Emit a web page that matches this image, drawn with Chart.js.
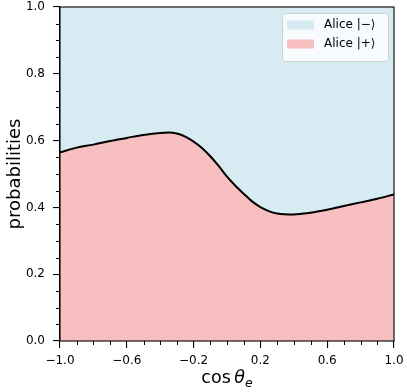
<!DOCTYPE html>
<html>
<head>
<meta charset="utf-8">
<script src="https://cdn.jsdelivr.net/npm/chart.js@4.4.1/dist/chart.umd.min.js"></script>
<style>
  html, body { margin: 0; padding: 0; background: #fff; }
  #wrap { width: 407px; height: 392px; }
</style>
</head>
<body>
<div id="wrap"><canvas id="myChart"></canvas></div>
<script>
// cos(theta_e) sample points and probability of Alice |+>
const cosTheta = [-1.0, -0.9, -0.8, -0.7, -0.6, -0.5, -0.4, -0.35, -0.3, -0.25, -0.2, -0.15, -0.1, -0.05, 0.0, 0.05, 0.1, 0.15, 0.2, 0.25, 0.3, 0.4, 0.5, 0.6, 0.7, 0.8, 0.9, 1.0];
const probPlus = [0.565, 0.579, 0.588, 0.599, 0.608, 0.617, 0.623, 0.624, 0.621, 0.612, 0.597, 0.578, 0.553, 0.524, 0.492, 0.465, 0.441, 0.418, 0.401, 0.389, 0.382, 0.379, 0.384, 0.393, 0.404, 0.415, 0.426, 0.439];
const probTotal = cosTheta.map(() => 1.0);
const seriesLabels = ['Alice |+\u27E9', 'Alice |\u2212\u27E9'];
const xTicks = [-1.0, -0.6, -0.2, 0.2, 0.6, 1.0];
const yTicks = [0.0, 0.2, 0.4, 0.6, 0.8, 1.0];
const xMinor = [-0.9, -0.8, -0.7, -0.5, -0.4, -0.3, -0.1, 0.0, 0.1, 0.3, 0.4, 0.5, 0.7, 0.8, 0.9];
const yMinor = [0.05, 0.1, 0.15, 0.25, 0.3, 0.35, 0.45, 0.5, 0.55, 0.65, 0.7, 0.75, 0.85, 0.9, 0.95];

const pinkFill = 'rgb(247, 191, 191)';
const blueFill = 'rgb(214, 235, 242)';
const FONT = "'DejaVu Sans', sans-serif";

function fmt(v) {
  return v.toFixed(1).replace('-', '\u2212');
}

const decor = {
  id: 'decor',
  afterDatasetsDraw(chart) {
    const c = chart.ctx;
    const a = chart.chartArea;
    const xs = chart.scales.x, ys = chart.scales.y;
    c.save();
    // minor ticks
    c.strokeStyle = '#000';
    c.lineWidth = 1;
    c.beginPath();
    xMinor.forEach(v => {
      const px = Math.round(xs.getPixelForValue(v)) + 0.5;
      c.moveTo(px, a.bottom);
      c.lineTo(px, a.bottom + 4);
    });
    yMinor.forEach(v => {
      const py = Math.round(ys.getPixelForValue(v)) + 0.5;
      c.moveTo(a.left, py);
      c.lineTo(a.left - 4, py);
    });
    c.stroke();
    // frame
    c.lineWidth = 1.1;
    c.strokeRect(a.left, a.top, a.right - a.left, a.bottom - a.top);
    c.restore();
  },
  afterDraw(chart) {
    const c = chart.ctx;
    const a = chart.chartArea;
    c.save();
    // x axis title: cos θ_e
    const cx = (a.left + a.right) / 2;
    const by = 383;
    c.fillStyle = '#000';
    c.textBaseline = 'alphabetic';
    c.font = '17.5px ' + FONT;
    const w1 = c.measureText('cos\u2009').width;
    c.font = 'italic 17.5px ' + FONT;
    const w2 = c.measureText('\u03B8').width;
    c.font = 'italic 12.5px ' + FONT;
    const w3 = c.measureText('e').width;
    let x0 = cx - (w1 + w2 + w3) / 2;
    c.textAlign = 'left';
    c.font = '17.5px ' + FONT;
    c.fillText('cos\u2009', x0, by);
    c.font = 'italic 17.5px ' + FONT;
    c.fillText('\u03B8', x0 + w1, by);
    c.font = 'italic 12.5px ' + FONT;
    c.fillText('e', x0 + w1 + w2, by + 4);

    // legend
    const lx = 282, ly = 13, lw = 106, lh = 48;
    c.beginPath();
    c.roundRect(lx + 0.5, ly + 0.5, lw, lh, 3);
    c.fillStyle = 'rgba(255,255,255,0.8)';
    c.fill();
    c.strokeStyle = '#d0d0d0';
    c.lineWidth = 1;
    c.stroke();
    const entries = [
      { label: chart.data.datasets[1].label, color: chart.data.datasets[1].backgroundColor },
      { label: chart.data.datasets[0].label, color: chart.data.datasets[0].backgroundColor }
    ];
    c.font = '12px ' + FONT;
    c.textBaseline = 'middle';
    entries.forEach((e, i) => {
      const yy = 25 + i * 19;
      c.fillStyle = e.color;
      c.fillRect(287, yy - 4.5, 27, 9);
      c.fillStyle = '#000';
      c.fillText(e.label, 324, yy);
    });
    c.restore();
  }
};

const ctx = document.getElementById('myChart');
new Chart(ctx, {
  type: 'line',
  data: {
    labels: cosTheta,
    datasets: [
      {
        label: seriesLabels[0],
        data: cosTheta.map((x, i) => ({ x: x, y: probPlus[i] })),
        borderColor: '#000',
        borderWidth: 2,
        backgroundColor: pinkFill,
        fill: 'origin',
        pointRadius: 0,
        cubicInterpolationMode: 'monotone',
        order: 1
      },
      {
        label: seriesLabels[1],
        data: cosTheta.map((x, i) => ({ x: x, y: probTotal[i] })),
        borderWidth: 0,
        borderColor: 'rgba(0,0,0,0)',
        backgroundColor: blueFill,
        fill: '-1',
        pointRadius: 0,
        order: 2
      }
    ]
  },
  options: {
    responsive: true,
    maintainAspectRatio: false,
    animation: false,
    layout: { padding: { top: 7, right: 13, left: 0, bottom: 0 } },
    plugins: {
      legend: { display: false },
      tooltip: { enabled: false },
      filler: { propagate: false }
    },
    scales: {
      x: {
        type: 'linear',
        min: -1,
        max: 1,
        afterBuildTicks: s => { s.ticks = xTicks.map(v => ({ value: v })); },
        afterFit: s => { s.height = 51; s.paddingLeft = 0; s.paddingRight = 0; },
        ticks: {
          callback: v => fmt(v),
          font: { family: FONT, size: 12 },
          color: '#000',
          padding: 6,
          maxRotation: 0,
          autoSkip: false
        },
        grid: { drawOnChartArea: false, drawTicks: true, tickLength: 7, color: '#000', lineWidth: 1.1 },
        border: { display: true, color: '#000', width: 1.1 }
      },
      y: {
        min: 0,
        max: 1,
        afterBuildTicks: s => { s.ticks = yTicks.map(v => ({ value: v })); },
        afterFit: s => { s.width = 60; s.paddingTop = 0; s.paddingBottom = 0; },
        ticks: {
          callback: v => fmt(v),
          font: { family: FONT, size: 12 },
          color: '#000',
          padding: 8,
          autoSkip: false
        },
        grid: { drawOnChartArea: false, drawTicks: true, tickLength: 7, color: '#000', lineWidth: 1.1 },
        border: { display: true, color: '#000', width: 1.1 },
        title: {
          display: true,
          text: 'probabilities',
          font: { family: FONT, size: 18 },
          color: '#000',
          padding: { top: 5, bottom: 0 }
        }
      }
    }
  },
  plugins: [decor]
});
</script>
</body>
</html>
